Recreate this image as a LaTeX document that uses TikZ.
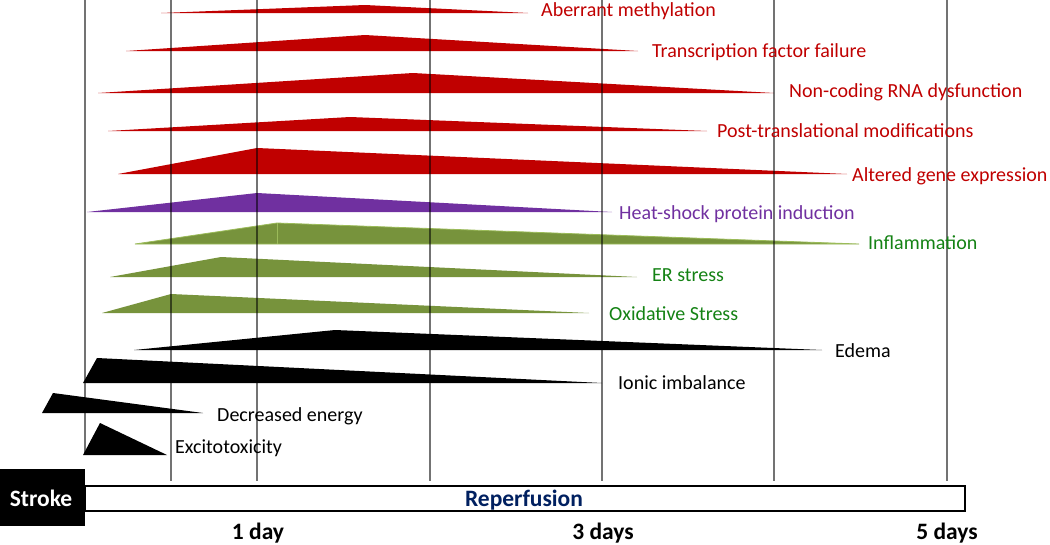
\documentclass[tikz,border=0pt]{standalone}
\usepackage{fontspec}
\setmainfont{Carlito}
\definecolor{cred}{RGB}{192,0,0}
\definecolor{cpurple}{RGB}{112,48,160}
\definecolor{cgreen}{RGB}{119,147,60}
\definecolor{cgreenl}{RGB}{155,187,89}
\definecolor{clabgreen}{RGB}{20,130,20}
\definecolor{cnavy}{RGB}{0,32,96}
\begin{document}
\begin{tikzpicture}[x=1pt,y=-1pt,
  lab/.style={anchor=base west,inner sep=0pt,font=\fontsize{20}{24}\selectfont},
  boldlab/.style={anchor=base,inner sep=0pt,font=\fontsize{23.5}{28}\selectfont\bfseries},
  gridline/.style={draw=black,opacity=0.55,line width=1.1pt}]
\useasboundingbox (0,0) rectangle (1050,544);
% bars
\fill[cred] (161,13) -- (365,5) -- (528,13) -- cycle;
\fill[cred] (126,51) -- (365,35) -- (638,51) -- cycle;
\fill[cred] (98,93) -- (413,73) -- (774,93) -- cycle;
\fill[cred] (108,131) -- (350,117) -- (707,131) -- cycle;
\fill[cred] (118,174) -- (257,148) -- (847,174) -- cycle;
\fill[cpurple] (87,212) -- (257,193) -- (612,212) -- cycle;
\filldraw[fill=cgreen,draw=cgreenl,line width=0.8pt] (135,244) -- (277,223) -- (859,244) -- cycle;
\draw[cgreenl,line width=0.8pt] (277,223) -- (277,244);
\fill[cgreen] (110,277) -- (221,257) -- (637,277) -- cycle;
\fill[cgreen] (102,313) -- (171,294) -- (589,313) -- cycle;
\fill[black] (134,350) -- (335,330) -- (822,350) -- cycle;
\fill[black] (83,383) -- (97,358) -- (602,383) -- cycle;
\fill[black] (42,413) -- (53,393) -- (203,413) -- cycle;
\fill[black] (83,455) -- (100,423) -- (167,455) -- cycle;
% grid lines
\draw[gridline] (85,0) -- (85,455);
\foreach \x in {171,257,430,602,774,947} \draw[gridline] (\x,0) -- (\x,481);
% labels
\node[lab,text=cred] (l1) at (541,16.5) {Aberrant methylation};
\node[lab,text=cred] (l2) at (652,57) {Transcription factor failure};
\node[lab,text=cred] (l3) at (789,97) {Non-coding RNA dysfunction};
\node[lab,text=cred] (l4) at (717,137) {Post-translational modifications};
\node[lab,text=cred] (l5) at (852,181) {Altered gene expression};
\node[lab,text=cpurple] (l6) at (619,219) {Heat-shock protein induction};
\node[lab,text=clabgreen] (l7) at (868,249) {Inflammation};
\node[lab,text=clabgreen] (l8) at (652,281) {ER stress};
\node[lab,text=clabgreen] (l9) at (609,320) {Oxidative Stress};
\node[lab] (l10) at (835,357) {Edema};
\node[lab] (l11) at (618,389) {Ionic imbalance};
\node[lab] (l12) at (217,421) {Decreased energy};
\node[lab] (l13) at (175,453) {Excitotoxicity};
% timeline
\draw[line width=1.5pt,fill=white] (85,486) rectangle (965,511);
\fill[black] (0,469) rectangle (85,526);
\node[boldlab,text=white] (stroke) at (41,506) {Stroke};
\node[boldlab,text=cnavy] (rep) at (524,506) {Reperfusion};
\node[boldlab] (d1) at (258,539) {1 day};
\node[boldlab] (d3) at (603,539) {3 days};
\node[boldlab] (d5) at (947,539) {5 days};
\end{tikzpicture}
\end{document}
